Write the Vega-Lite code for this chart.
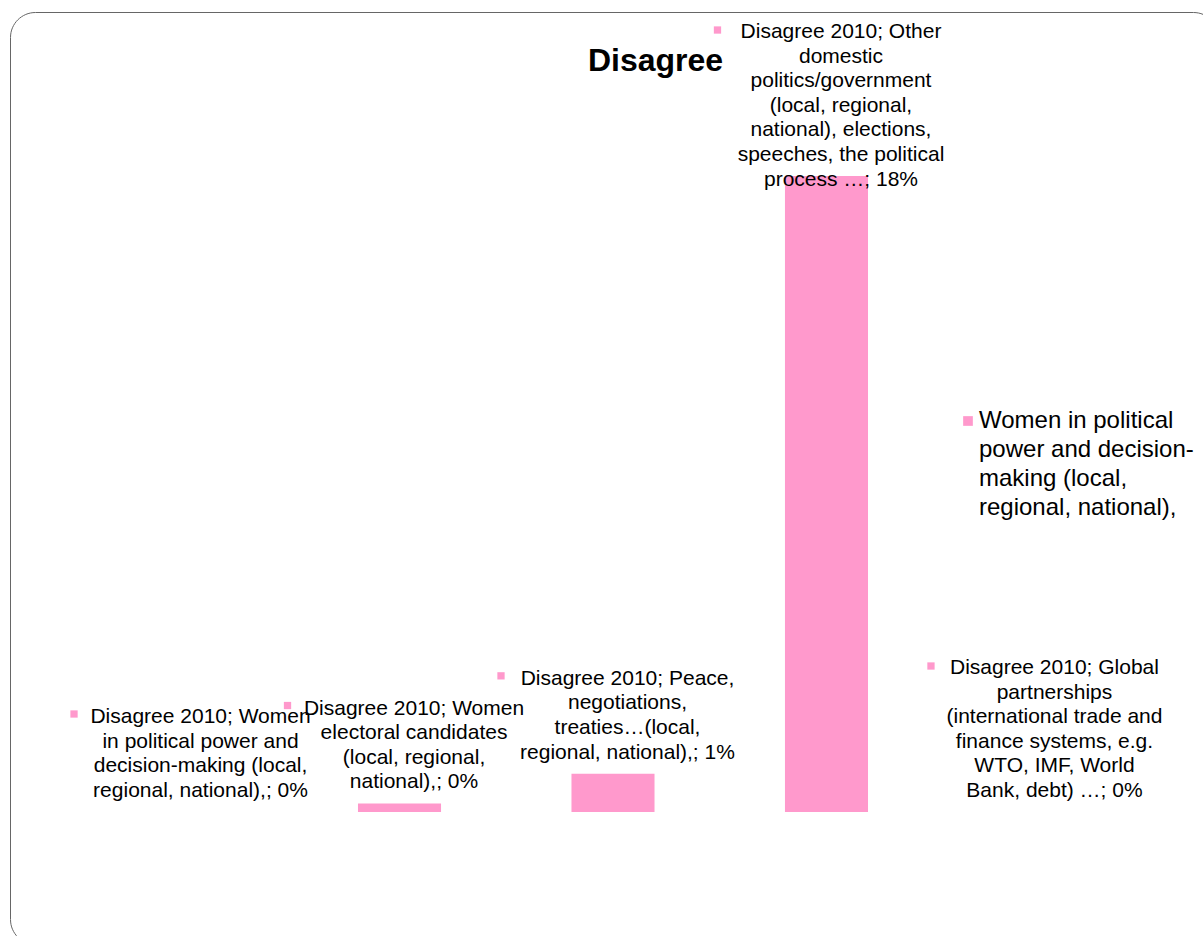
{
  "$schema": "https://vega.github.io/schema/vega-lite/v6.json",
  "autosize": "none",
  "width": 1208,
  "height": 932,
  "padding": {"left": 10, "top": 12, "right": -15, "bottom": -8},
  "background": "#ffffff",
  "title": {
    "text": "Disagree",
    "font": "Liberation Sans",
    "fontSize": 32,
    "fontWeight": "bold",
    "color": "#000000",
    "anchor": "middle",
    "frame": "group",
    "baseline": "alphabetic",
    "offset": -91,
    "dx": 41.5
  },
  "data": {
    "values": [
      {"category": "Women in political power and decision-making (local, regional, national),", "value": 0, "label": ["Disagree 2010; Women", "in political power and", "decision-making (local,", "regional, national),; 0%"]},
      {"category": "Women electoral candidates (local, regional, national),", "value": 0.24, "label": ["Disagree 2010; Women", "electoral candidates", "(local, regional,", "national),; 0%"]},
      {"category": "Peace, negotiations, treaties…(local, regional, national),", "value": 1.08, "label": ["Disagree 2010; Peace,", "negotiations,", "treaties…(local,", "regional, national),; 1%"]},
      {"category": "Other domestic politics/government (local, regional, national), elections, speeches, the political process …", "value": 18, "label": ["Disagree 2010; Other", "domestic", "politics/government", "(local, regional,", "national), elections,", "speeches, the political", "process …; 18%"]},
      {"category": "Global partnerships (international trade and finance systems, e.g. WTO, IMF, World Bank, debt) …", "value": 0, "label": ["Disagree 2010; Global", "partnerships", "(international trade and", "finance systems, e.g.", "WTO, IMF, World", "Bank, debt) …; 0%"]}
    ]
  },
  "encoding": {
    "x": {"field": "category", "type": "nominal", "sort": null, "axis": null,
          "scale": {"paddingInner": 0.611, "paddingOuter": 0.6347, "align": 0.4963}},
    "y": {"field": "value", "type": "quantitative", "axis": null,
          "scale": {"domain": [-3.736, 22.642], "nice": false, "zero": false}}
  },
  "layer": [
    {
      "mark": {"type": "bar", "color": "#ff99cc"},
      "encoding": {
        "color": {
          "datum": "Women in political power and decision-making (local, regional, national),",
          "type": "nominal",
          "scale": {"range": ["#ff99cc"]},
          "legend": {
            "title": null,
            "orient": "none",
            "legendX": 946,
            "legendY": 397,
            "padding": 0,
            "symbolType": "square",
            "symbolSize": 94,
            "symbolStrokeWidth": 0,
            "labelFont": "Liberation Sans",
            "labelFontSize": 24,
            "labelColor": "#000000",
            "labelLimit": 0,
            "labelOffset": -1,
            "labelExpr": "['Women in political', 'power and decision-', 'making (local,', 'regional, national),']"
          }
        }
      }
    },
    {
      "transform": [{"filter": "length(datum.label) == 4"}],
      "mark": {"type": "text", "align": "center", "baseline": "alphabetic", "dx": 14.5, "dy": -89,
               "font": "Liberation Sans", "fontSize": 21, "lineHeight": 24.6, "color": "#000000"},
      "encoding": {"text": {"field": "label"}}
    },
    {
      "transform": [{"filter": "length(datum.label) > 4"}],
      "mark": {"type": "text", "align": "center", "baseline": "alphabetic", "dx": 14.5, "dy": -138,
               "font": "Liberation Sans", "fontSize": 21, "lineHeight": 24.6, "color": "#000000"},
      "encoding": {"text": {"field": "label"}}
    },
    {
      "transform": [{"filter": "length(datum.label) == 4"}],
      "mark": {"type": "square", "filled": true, "color": "#ff99cc", "opacity": 1, "size": 53, "xOffset": -112, "yOffset": -98},
      "encoding": {}
    },
    {
      "transform": [{"filter": "length(datum.label) > 4"}],
      "mark": {"type": "square", "filled": true, "color": "#ff99cc", "opacity": 1, "size": 53, "xOffset": -109, "yOffset": -146},
      "encoding": {}
    }
  ],
  "config": {
    "view": {"stroke": "#666666", "strokeWidth": 1, "cornerRadius": 25},
    "font": "Liberation Sans",
    "style": {"guide-label": {"lineHeight": 29}}
  }
}
